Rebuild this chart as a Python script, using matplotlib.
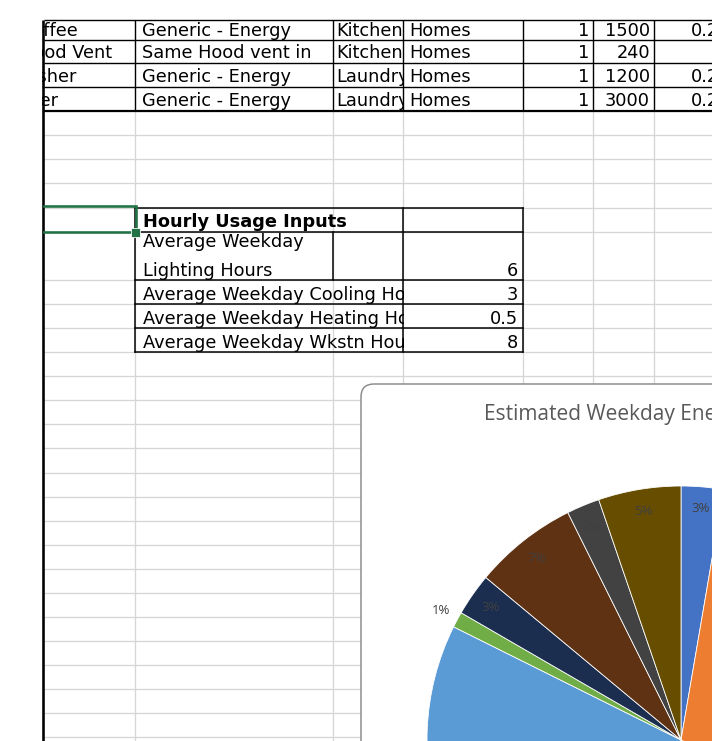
import matplotlib
matplotlib.use("Agg")
import matplotlib.pyplot as plt
from matplotlib.patches import FancyBboxPatch, Rectangle
import numpy as np

# ---------------- data ----------------
appliance_names = ["Coffee", "Range Hood Vent", "Clothes Washer", "Clothes Dryer"]
appliance_types = ["Generic - Energy", "Same Hood vent in", "Generic - Energy", "Generic - Energy"]
appliance_rooms = ["Kitchen", "Kitchen", "Laundry", "Laundry"]
appliance_bldg = ["Homes", "Homes", "Homes", "Homes"]
appliance_qty = [1, 1, 1, 1]
appliance_watts = [1500, 240, 1200, 3000]
appliance_factor = ["0.25", "", "0.25", "0.25"]

hourly_title = "Hourly Usage Inputs"
hourly_labels = ["Average Weekday\nLighting Hours",
                 "Average Weekday Cooling Hours",
                 "Average Weekday Heating Hours",
                 "Average Weekday Wkstn Hours"]
hourly_values = [6, 3, 0.5, 8]

chart_title = "Estimated Weekday Energy Use by Category"
pie_categories = ["Lighting", "Cooling", "Heating", "Workstations", "Plug Loads",
                  "Microwave", "Coffee", "Range Hood Vent", "Clothes Washer", "Clothes Dryer"]
pie_shares = [2.7, 30.0, 14.0, 9.0, 26.65, 1.0, 2.7, 6.6, 2.1, 5.25]
pie_colors = ["#4472C4", "#ED7D31", "#A5A5A5", "#FFC000", "#5B9BD5",
              "#70AD47", "#1B2E4F", "#5F3214", "#424242", "#664D00"]

# ---------------- layout ----------------
W, H = 712, 741
fig = plt.figure(figsize=(W / 100, H / 100), dpi=100)
ax = fig.add_axes([0, 0, 1, 1])
ax.set_xlim(0, W)
ax.set_ylim(H, 0)
ax.axis("off")

PX = 0.72  # points per pixel
col_x = [44, 135, 333, 403, 523, 593, 654]
row_y = [20, 40, 63, 87, 111, 135, 159, 183, 208, 232, 280, 304, 328, 352, 376,
         400, 424, 448, 473, 497, 521, 545, 569, 593, 617, 641, 665, 689, 713, 737]
GRID = "#d6d6d6"

# light grid in lower part
for y in row_y[4:]:
    ax.plot([44, W], [y, y], color=GRID, lw=1.3 * PX, zorder=1, solid_capstyle="butt")
for x in col_x[1:]:
    ax.plot([x, x], [111, H], color=GRID, lw=1.3 * PX, zorder=1, solid_capstyle="butt")

FS = 12.8
FAM = "DejaVu Sans"


def sheet_text(x, y, s, ha="left", z=3, **kw):
    return ax.text(x, y, s, ha=ha, va="baseline", fontsize=FS, family=FAM,
                   color="black", zorder=z, **kw)


def cover(x0, y0, x1, y1):
    ax.add_patch(Rectangle((x0, y0), x1 - x0, y1 - y0, facecolor="white",
                           edgecolor="none", zorder=3.5))


name_right = [78, 112, 76, 58]
for i in range(4):
    top, bot = row_y[i], row_y[i + 1]
    base = bot - 4.5
    sheet_text(name_right[i], base, appliance_names[i], ha="right")
    sheet_text(142, base, appliance_types[i])
    sheet_text(336, base, appliance_rooms[i])
    cover(403.5, top + 1, W, bot - 1)
    sheet_text(409, base, appliance_bldg[i], z=3.6)
    sheet_text(589, base, str(appliance_qty[i]), ha="right", z=3.6)
    sheet_text(650, base, str(appliance_watts[i]), ha="right", z=3.6)
    sheet_text(691, base, appliance_factor[i], z=3.6)

# white margins that hide overflowing text
cover(0, 0, 42, H)
cover(0, 0, W, 20)

# top table borders
for y in row_y[:4]:
    ax.plot([44, W], [y, y], color="black", lw=1.4 * PX, zorder=4, solid_capstyle="butt")
ax.plot([44, W], [111, 111], color="black", lw=2.2 * PX, zorder=4, solid_capstyle="butt")
for x in col_x[1:]:
    ax.plot([x, x], [20, 111], color="black", lw=1.4 * PX, zorder=4, solid_capstyle="butt")
# left thick border
ax.plot([43, 43], [20, H], color="black", lw=2.6 * PX, zorder=4, solid_capstyle="butt")

# hourly usage table
sheet_text(143, 227, hourly_title, weight="bold")
h_rows = [(232, 280), (280, 304), (304, 328), (328, 352)]
for i, (top, bot) in enumerate(h_rows):
    lab = hourly_labels[i]
    if "\n" in lab:
        l1, l2 = lab.split("\n")
        sheet_text(143, top + 15, l1)
        sheet_text(143, bot - 4.5, l2)
    else:
        sheet_text(143, bot - 4.5, lab)
        cover(404, top + 1, 480, bot - 1)
    sheet_text(518, bot - 4.5, f"{hourly_values[i]:g}", ha="right")

for y in [208, 232, 280, 304, 328, 352]:
    ax.plot([135, 523], [y, y], color="black", lw=1.5 * PX, zorder=4, solid_capstyle="projecting")
for x in [135, 403, 523]:
    ax.plot([x, x], [208, 352], color="black", lw=1.5 * PX, zorder=4, solid_capstyle="projecting")
ax.plot([333, 333], [232, 280], color="black", lw=1.5 * PX, zorder=4)

# green selection
GREEN = "#217346"
ax.plot([44, 136, 136, 44], [206, 206, 232, 232], color=GREEN, lw=2.6 * PX, zorder=5,
        solid_joinstyle="miter")
ax.add_patch(Rectangle((130.5, 227.5), 9, 9, facecolor=GREEN, edgecolor="white",
                       lw=0.8 * PX, zorder=6))

# chart area
ax.add_patch(FancyBboxPatch((361, 384), 420, 420, boxstyle="round,pad=0,rounding_size=13",
                            facecolor="white", edgecolor="#8c8c8c", lw=1.5 * PX, zorder=7))
ax.text(484, 420, chart_title, ha="left", va="baseline", fontsize=15,
        family="Open Sans", color="#595959", zorder=8)

# pie
cx, cy, R = 681, 740, 254
pax = fig.add_axes([(cx - R) / W, (H - cy - R) / H, 2 * R / W, 2 * R / H])
wedges, _ = pax.pie(pie_shares, colors=pie_colors, startangle=90, counterclock=False,
                    radius=1, wedgeprops=dict(edgecolor="white", linewidth=0.8 * PX))
pax.set_xlim(-1, 1)
pax.set_ylim(-1, 1)
pax.axis("off")
total = sum(pie_shares)
for w, v in zip(wedges, pie_shares):
    pct = 100 * v / total
    mid = np.deg2rad((w.theta1 + w.theta2) / 2)
    r = 1.075 if pct < 1.5 else 0.913
    pax.text(r * np.cos(mid), r * np.sin(mid), f"{pct:.0f}%", ha="center", va="center",
             fontsize=9.5, family="Open Sans", color="#404040", clip_on=False)

fig.savefig("out.png", dpi=100)
